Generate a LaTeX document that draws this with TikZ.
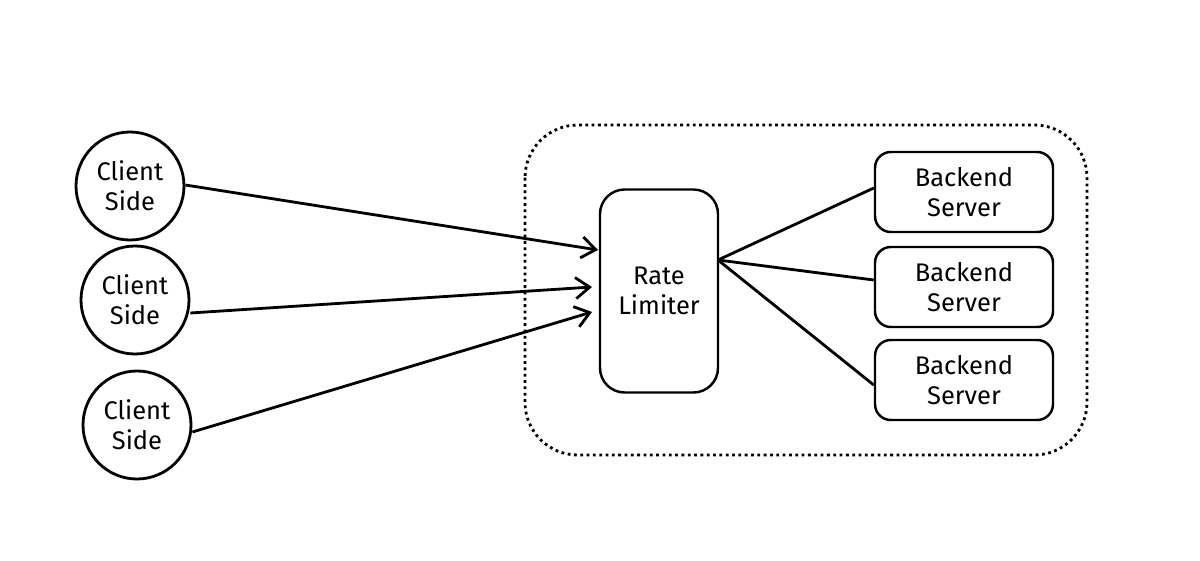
\documentclass[tikz,border=0pt]{standalone}
\usepackage{fontspec}
\setmainfont{Fira Sans}
\usetikzlibrary{arrows.meta}
\begin{document}
\begin{tikzpicture}[x=0.02cm,y=-0.02cm,
  every node/.style={font=\fontsize{14.5}{17}\selectfont, align=center},
  client/.style={draw, line width=1.6pt, circle, minimum size=108*0.02cm, inner sep=0},
  box/.style={draw, line width=1.4pt, rounded corners=9pt, inner sep=0},
  arr/.style={line width=1.6pt, ->, >={Straight Barb[length=8pt,width=12pt]}},
  ln/.style={line width=1.6pt}]
\useasboundingbox (0,0) rectangle (1200,561);
\draw[line width=1.6pt, dotted, rounded corners=30pt] (525,125) rectangle (1087,455);
\node[client] (c1) at (130,186) {Client\\Side};
\node[client] (c2) at (135,300) {Client\\Side};
\node[client] (c3) at (137,425) {Client\\Side};
\node[box, minimum width=118*0.02cm, minimum height=203*0.02cm, rounded corners=14pt] (rl) at (659,291) {Rate\\Limiter};
\node[box, minimum width=178*0.02cm, minimum height=80*0.02cm] (b1) at (964,192) {Backend\\Server};
\node[box, minimum width=178*0.02cm, minimum height=80*0.02cm] (b2) at (964,287) {Backend\\Server};
\node[box, minimum width=178*0.02cm, minimum height=80*0.02cm] (b3) at (964,380) {Backend\\Server};
\coordinate (rlo) at (718,260);
\coordinate (a1) at (598,250);
\coordinate (a2) at (592,287);
\coordinate (a3) at (592,312);
\draw[arr] (c1.east |- 0,185) -- (a1);
\draw[arr] (c2.east |- 0,313) -- (a2);
\draw[arr] (c3.east |- 0,432) -- (a3);
\draw[ln] (rlo) -- (b1.west |- 0,188);
\draw[ln] (rlo) -- (b2.west |- 0,280);
\draw[ln] (rlo) -- (b3.west |- 0,385);
\end{tikzpicture}
\end{document}
